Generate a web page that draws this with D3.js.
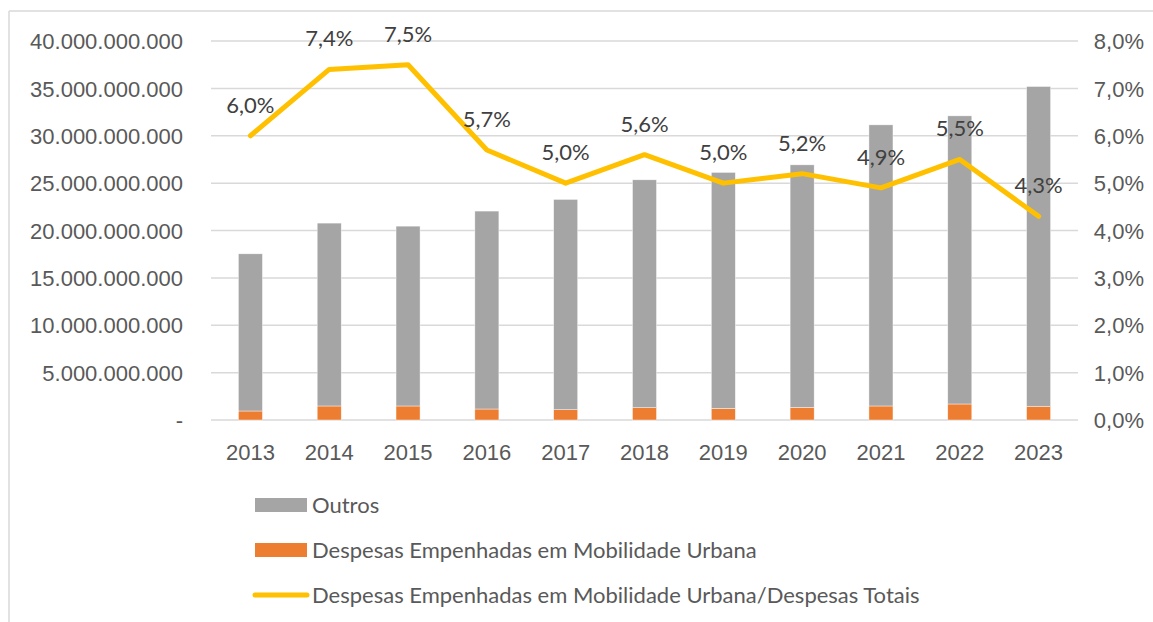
<!DOCTYPE html>
<html>
<head>
<meta charset="utf-8">
<script src="https://cdn.jsdelivr.net/npm/d3@7"></script>
<style>
  html, body { margin: 0; padding: 0; background: #fff; }
  svg { display: block; font-family: Lato, "Open Sans", sans-serif; }
</style>
</head>
<body>
<svg id="chart" width="1153" height="622"></svg>
<script>
// Anos
const years = ["2013", "2014", "2015", "2016", "2017", "2018", "2019", "2020", "2021", "2022", "2023"];
// Despesas empenhadas em mobilidade urbana (R$)
const mobilidade = [0.95e9, 1.48e9, 1.48e9, 1.16e9, 1.09e9, 1.30e9, 1.23e9, 1.34e9, 1.48e9, 1.69e9, 1.45e9];
// Demais despesas (R$)
const outros = [16.59e9, 19.30e9, 18.98e9, 20.89e9, 22.19e9, 24.05e9, 24.90e9, 25.59e9, 29.67e9, 30.41e9, 33.75e9];
// Participação da mobilidade urbana nas despesas totais (%)
const participacao = [6.0, 7.4, 7.5, 5.7, 5.0, 5.6, 5.0, 5.2, 4.9, 5.5, 4.3];
// Ticks dos eixos
const leftTicks = [0, 5e9, 10e9, 15e9, 20e9, 25e9, 30e9, 35e9, 40e9];
const rightTicks = [0, 1, 2, 3, 4, 5, 6, 7, 8];
const legendLabels = ["Outros", "Despesas Empenhadas em Mobilidade Urbana", "Despesas Empenhadas em Mobilidade Urbana/Despesas Totais"];

const colors = { outros: "#a5a5a5", mob: "#ed7d31", line: "#ffc000", grid: "#d9d9d9", text: "#595959", label: "#404040" };
const fontSize = "22px";

const svg = d3.select("#chart");

// frame of the chart area
svg.append("line").attr("x1", 9).attr("x2", 1153).attr("y1", 11).attr("y2", 11)
  .attr("stroke", colors.grid).attr("stroke-width", 1.5);
svg.append("line").attr("x1", 9).attr("x2", 9).attr("y1", 11).attr("y2", 622)
  .attr("stroke", colors.grid).attr("stroke-width", 1.5);

const plot = { left: 211, right: 1078, top: 41, bottom: 420 };

const x = d3.scaleBand().domain(years).range([plot.left, plot.right]).paddingInner(0.695).paddingOuter(0.3475);
const yL = d3.scaleLinear().domain([0, 40e9]).range([plot.bottom, plot.top]);
const yR = d3.scaleLinear().domain([0, 8]).range([plot.bottom, plot.top]);

// numbers in pt-BR style
const ptBR = d3.formatLocale({ decimal: ",", thousands: ".", grouping: [3], currency: ["R$", ""] });
const fmtInt = ptBR.format(",.0f");
const fmtPct = v => ptBR.format(".1f")(v) + "%";
const fmtLeft = v => v === 0 ? "-" : fmtInt(v);

// gridlines
svg.append("g").selectAll("line").data(leftTicks).join("line")
  .attr("x1", plot.left).attr("x2", plot.right)
  .attr("y1", d => yL(d)).attr("y2", d => yL(d))
  .attr("stroke", colors.grid).attr("stroke-width", 1.5);

// left axis
const axL = svg.append("g").attr("transform", `translate(${plot.left - 28},0)`)
  .call(d3.axisLeft(yL).tickValues(leftTicks).tickFormat(fmtLeft).tickSize(0).tickPadding(0));
axL.select(".domain").remove();
axL.selectAll("text").attr("fill", colors.text).style("font-size", fontSize).attr("dy", "0.35em");

// right axis
const axR = svg.append("g").attr("transform", `translate(${plot.right + 66},0)`)
  .call(d3.axisRight(yR).tickValues(rightTicks).tickFormat(fmtPct).tickSize(0).tickPadding(0));
axR.select(".domain").remove();
axR.selectAll("text").attr("fill", colors.text).style("font-size", fontSize).attr("text-anchor", "end").attr("dy", "0.35em");

// bottom axis
const axB = svg.append("g").attr("transform", `translate(0,${plot.bottom})`)
  .call(d3.axisBottom(x).tickSize(0).tickPadding(24));
axB.select(".domain").remove();
axB.selectAll("text").attr("fill", colors.text).style("font-size", fontSize);

// stacked bars
const rows = years.map((y, i) => ({ year: y, mob: mobilidade[i], outros: outros[i] }));
const stack = d3.stack().keys(["mob", "outros"])(rows);
svg.append("g").selectAll("g").data(stack).join("g")
  .attr("fill", d => d.key === "mob" ? colors.mob : colors.outros)
  .selectAll("rect").data(d => d).join("rect")
  .attr("x", d => x(d.data.year))
  .attr("width", x.bandwidth())
  .attr("y", d => yL(d[1]))
  .attr("height", d => yL(d[0]) - yL(d[1]))
  .attr("stroke", "#ffffff").attr("stroke-width", 0.6).attr("stroke-opacity", 0.7);

// share line
const cx = y => x(y) + x.bandwidth() / 2;
const line = d3.line().x((d, i) => cx(years[i])).y(d => yR(d));
svg.append("path").datum(participacao)
  .attr("d", line).attr("fill", "none")
  .attr("stroke", colors.line).attr("stroke-width", 5)
  .attr("stroke-linejoin", "round").attr("stroke-linecap", "round");

// data labels
svg.append("g").selectAll("text").data(participacao).join("text")
  .attr("x", (d, i) => cx(years[i]))
  .attr("y", d => yR(d) - 23)
  .attr("text-anchor", "middle")
  .attr("fill", colors.label).style("font-size", fontSize)
  .text(d => fmtPct(d));

// legend
const legend = svg.append("g").attr("transform", "translate(255,0)");
const legY = [505, 550, 595];
legend.append("rect").attr("x", 0).attr("y", legY[0] - 7).attr("width", 52).attr("height", 14).attr("fill", colors.outros);
legend.append("rect").attr("x", 0).attr("y", legY[1] - 7).attr("width", 52).attr("height", 14).attr("fill", colors.mob);
legend.append("line").attr("x1", 0).attr("x2", 52).attr("y1", legY[2]).attr("y2", legY[2])
  .attr("stroke", colors.line).attr("stroke-width", 5).attr("stroke-linecap", "round");
legend.selectAll("text").data(legendLabels).join("text")
  .attr("x", 57).attr("y", (d, i) => legY[i]).attr("dy", "0.35em")
  .attr("fill", colors.text).style("font-size", fontSize)
  .text(d => d);
</script>
</body>
</html>
